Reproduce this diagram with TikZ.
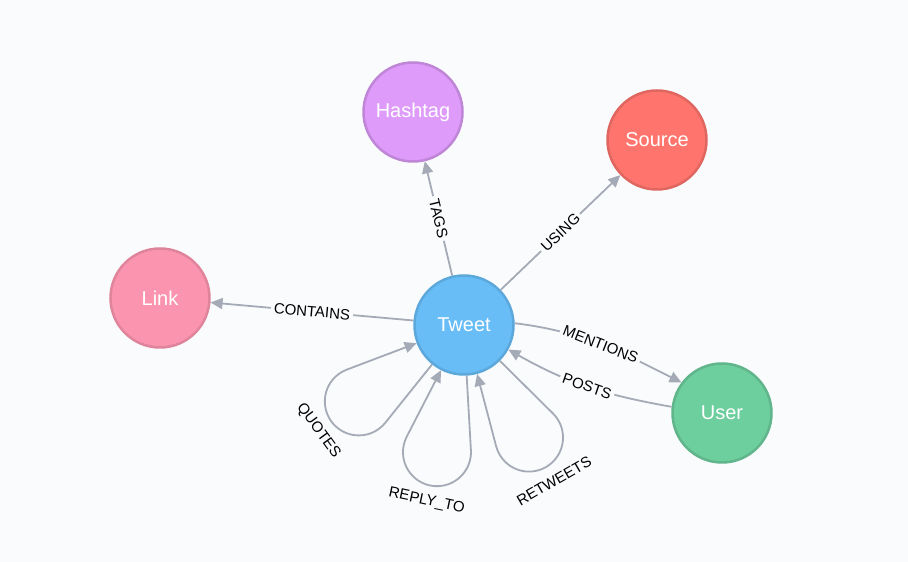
\documentclass[tikz,border=0pt]{standalone}
\usepackage{fontspec}
\setmainfont{Liberation Sans}
\usetikzlibrary{arrows.meta,calc}
\definecolor{bg}{HTML}{F9FBFD}
\definecolor{edgec}{HTML}{A5ABB6}
\definecolor{tweetf}{HTML}{68BDF6}\definecolor{tweetb}{HTML}{5CA8DB}
\definecolor{userf}{HTML}{6DCE9E}\definecolor{userb}{HTML}{60B58B}
\definecolor{sourcef}{HTML}{FF756E}\definecolor{sourceb}{HTML}{E06760}
\definecolor{hashf}{HTML}{DE9BF9}\definecolor{hashb}{HTML}{BF85D6}
\definecolor{linkf}{HTML}{FB95AF}\definecolor{linkb}{HTML}{E0849B}
\begin{document}
\begin{tikzpicture}[x=1pt,y=1pt,
  ent/.style={circle, minimum size=99pt, inner sep=0pt, line width=2.5pt, text=white, font=\fontsize{20}{24}\selectfont},
  edge/.style={draw=edgec, line width=1.8pt, -{Triangle[length=12pt,width=11pt]}},
  lbl/.style={fill=bg, inner sep=3pt, font=\fontsize{15}{18}\selectfont, text=black}]
\fill[bg] (0,0) rectangle (908,562);
\node[ent, fill=tweetf, draw=tweetb] (tweet) at (464,237) {Tweet};
\node[ent, fill=hashf, draw=hashb] (hashtag) at (413,450) {Hashtag};
\node[ent, fill=sourcef, draw=sourceb] (source) at (657,422) {Source};
\node[ent, fill=linkf, draw=linkb] (link) at (160,264) {Link};
\node[ent, fill=userf, draw=userb] (user) at (722,149) {User};

\draw[edge] (tweet) -- node[lbl,sloped] (ltags) {TAGS} (hashtag);
\draw[edge] (tweet) -- node[lbl,sloped] (lusing) {USING} (source);
\draw[edge] (tweet) -- node[lbl,sloped] (lcontains) {CONTAINS} (link);
\draw[edge] (tweet.2) to[out=-7,in=153.4] node[lbl,sloped] (lmentions) {MENTIONS} (user.143.6);
\draw[edge] (user.173.3) to[out=170,in=-29.6] node[lbl,sloped] (lposts) {POSTS} (tweet.-29);

\foreach \a/\t/\n in {216/QUOTES/lq, 258/REPLY\_TO/lr, 300/RETWEETS/lrt} {
  \pgfmathsetmacro{\s}{\a+15}
  \pgfmathsetmacro{\e}{\a-15}
  \pgfmathsetmacro{\r}{\a+90}
  \begin{scope}[shift={(tweet.center)}, rotate=\a]
    \draw[edge] (tweet.\s) -- (121.04,32.80) arc[start angle=105.3, end angle=-105.3, radius=34] -- (tweet.\e);
  \end{scope}
  \node[lbl, rotate=\r] (\n) at ($(tweet.center)+(\a:180)$) {\t};
}
\end{tikzpicture}
\end{document}
